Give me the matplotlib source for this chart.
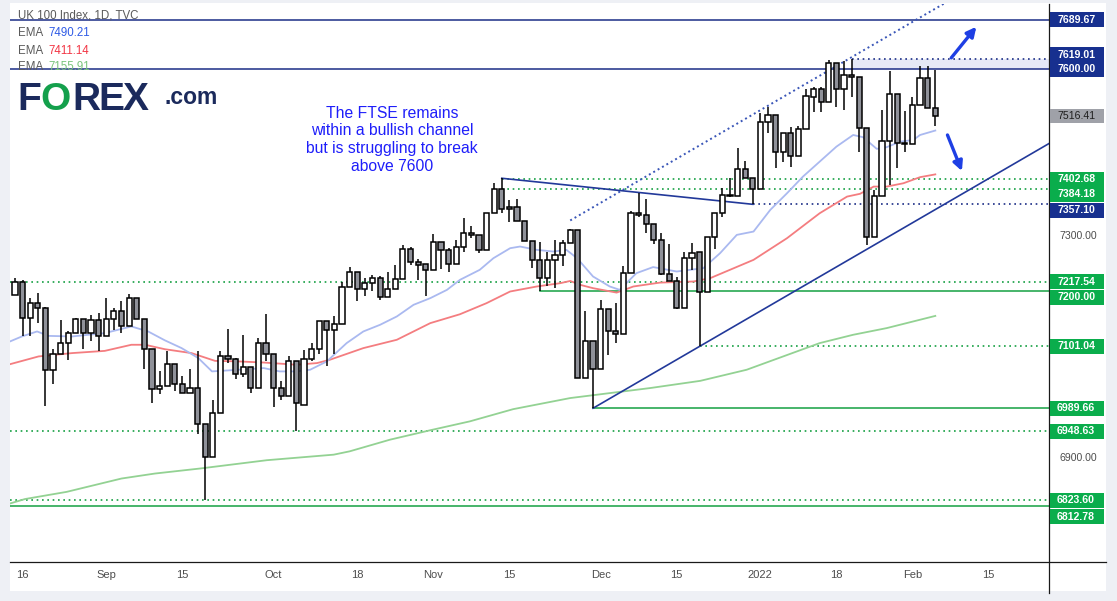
import matplotlib

matplotlib.use("Agg")
import matplotlib.pyplot as plt
from matplotlib.lines import Line2D
from matplotlib.patches import Rectangle

# ── Data ──────────────────────────────────────────────────────────────────
# daily candles, UK 100 Index, bar 0 ~ 13 Aug 2021 ... bar 121 = 4 Feb 2022
opens = [7194, 7218, 7153, 7180, 7170, 7059, 7087, 7108, 7125, 7150,
         7125, 7149, 7120, 7150, 7165, 7138, 7188, 7150, 7096, 7024,
         7029, 7069, 7033, 7017, 7027, 6962, 6902, 6981, 7084, 7078,
         7051, 7064, 7027, 7108, 7087, 7027, 7011, 7075, 6995, 7078,
         7096, 7146, 7131, 7141, 7208, 7235, 7204, 7216, 7224, 7190,
         7204, 7222, 7277, 7253, 7249, 7239, 7289, 7275, 7249, 7280,
         7305, 7301, 7274, 7341, 7384, 7352, 7352, 7327, 7291, 7257,
         7224, 7257, 7266, 7287, 7311, 7044, 7111, 7060, 7168, 7128,
         7123, 7233, 7341, 7338, 7322, 7293, 7231, 7219, 7170, 7260,
         7271, 7199, 7298, 7341, 7373, 7372, 7420, 7404, 7384, 7505,
         7518, 7451, 7485, 7445, 7493, 7551, 7564, 7542, 7611, 7564,
         7590, 7586, 7494, 7298, 7372, 7471, 7555, 7467, 7466, 7536,
         7584, 7530]
highs = [7224, 7220, 7188, 7198, 7172, 7096, 7149, 7129, 7153, 7150,
         7158, 7162, 7188, 7170, 7183, 7196, 7188, 7150, 7096, 7056,
         7092, 7069, 7048, 7060, 7093, 6962, 7005, 7092, 7132, 7080,
         7122, 7064, 7117, 7159, 7087, 7039, 7083, 7075, 7095, 7108,
         7146, 7146, 7155, 7217, 7244, 7235, 7224, 7229, 7228, 7236,
         7248, 7283, 7280, 7259, 7249, 7304, 7289, 7278, 7293, 7332,
         7318, 7301, 7342, 7396, 7404, 7364, 7366, 7327, 7291, 7290,
         7272, 7293, 7293, 7312, 7311, 7164, 7111, 7185, 7168, 7180,
         7246, 7345, 7378, 7366, 7322, 7305, 7286, 7227, 7272, 7288,
         7271, 7298, 7341, 7386, 7404, 7458, 7435, 7404, 7521, 7532,
         7518, 7485, 7496, 7498, 7564, 7569, 7569, 7617, 7612, 7615,
         7619, 7586, 7494, 7383, 7527, 7597, 7555, 7525, 7551, 7606,
         7606, 7599]
lows = [7194, 7119, 7119, 7144, 6994, 7033, 7087, 7077, 7125, 7097,
        7110, 7093, 7120, 7131, 7125, 7138, 7150, 7061, 6999, 7015,
        7029, 7021, 7017, 7017, 6943, 6824, 6902, 6981, 7072, 7042,
        7046, 7017, 7027, 7074, 6991, 7004, 7011, 6949, 6995, 7074,
        7087, 7065, 7087, 7141, 7208, 7182, 7191, 7200, 7184, 7190,
        7204, 7222, 7248, 7221, 7192, 7239, 7241, 7236, 7249, 7272,
        7296, 7270, 7274, 7341, 7341, 7326, 7327, 7291, 7243, 7201,
        7209, 7206, 7246, 7287, 7044, 7044, 6990, 7060, 7086, 7107,
        7123, 7233, 7335, 7305, 7286, 7230, 7219, 7168, 7170, 7239,
        7101, 7199, 7276, 7334, 7371, 7372, 7404, 7357, 7384, 7486,
        7422, 7434, 7425, 7445, 7493, 7524, 7524, 7542, 7533, 7527,
        7551, 7452, 7284, 7298, 7372, 7392, 7422, 7452, 7466, 7536,
        7530, 7499]
closes = [7218, 7153, 7180, 7170, 7059, 7087, 7108, 7125, 7150, 7125,
          7149, 7120, 7150, 7165, 7138, 7188, 7150, 7096, 7024, 7030,
          7069, 7033, 7017, 7027, 6962, 6902, 6981, 7084, 7078, 7051,
          7064, 7027, 7108, 7087, 7027, 7011, 7075, 6999, 7078, 7096,
          7146, 7131, 7141, 7208, 7235, 7204, 7216, 7224, 7190, 7204,
          7222, 7277, 7253, 7248, 7239, 7289, 7275, 7249, 7280, 7305,
          7301, 7274, 7341, 7384, 7348, 7348, 7327, 7291, 7257, 7224,
          7257, 7266, 7287, 7311, 7044, 7111, 7060, 7168, 7128, 7123,
          7233, 7341, 7338, 7322, 7293, 7231, 7219, 7170, 7260, 7270,
          7199, 7298, 7341, 7373, 7372, 7420, 7404, 7384, 7505, 7518,
          7451, 7485, 7445, 7493, 7552, 7564, 7542, 7611, 7564, 7590,
          7586, 7494, 7298, 7372, 7471, 7555, 7467, 7465, 7536, 7584,
          7530, 7516.41]

# EMA lines (bar position, value)
ema20_x = [-0.66, 0.9, 2.9, 4.4, 7.5, 11.8, 15.3, 17.5, 19.7, 21.9, 24.1,
           25.9, 29.4, 32.7, 34.8, 37.0, 38.8, 41.0, 43.6, 45.8, 48.0, 50.2,
           52.4, 54.6, 56.8, 58.5, 61.1, 62.9, 65.1, 66.4, 68.6, 70.8, 72.5,
           73.9, 76.0, 78.2, 79.5, 81.7, 83.9, 87.0, 90.5, 92.7, 94.9, 97.1,
           99.3, 101.5, 103.6, 105.8, 108.0, 110.2, 111.5, 113.3, 114.6,
           116.4, 118.1, 119.0, 121.0]
ema20_y = [7110, 7119, 7128, 7120, 7119, 7125, 7137, 7128, 7112, 7098, 7080,
           7056, 7059, 7062, 7056, 7056, 7059, 7074, 7107, 7128, 7140, 7155,
           7176, 7188, 7203, 7221, 7239, 7260, 7278, 7281, 7275, 7272, 7275,
           7260, 7227, 7209, 7203, 7233, 7244, 7236, 7242, 7269, 7302, 7308,
           7347, 7377, 7407, 7434, 7461, 7482, 7478, 7457, 7460,
           7470, 7473, 7482, 7490]
ema50_x = [-0.66, 3.1, 7.5, 11.8, 15.3, 17.1, 19.7, 23.2, 26.3, 29.4, 32.7,
           37.0, 39.7, 41.4, 45.8, 50.2, 54.6, 58.5, 62.0, 65.1, 68.6, 71.7,
           73.0, 74.3, 76.0, 79.1, 81.3, 84.8, 89.2, 91.4, 97.1, 101.5,
           105.8, 109.4, 111.1, 112.9, 114.6, 116.8, 119.0, 121.0]
ema50_y = [7069, 7083, 7089, 7093, 7104, 7104, 7096, 7089, 7075, 7074, 7072,
           7068, 7071, 7077, 7098, 7113, 7143, 7159, 7179, 7200, 7209, 7215,
           7219, 7212, 7206, 7198, 7209, 7216, 7218, 7224, 7257, 7296,
           7341, 7371, 7376, 7389, 7389, 7395, 7406, 7411]
ema200_x = [-0.66, 1.3, 6.8, 14.0, 18.4, 24.3, 33.1, 41.9, 44.0, 49.3, 54.6,
            59.8, 65.5, 73.0, 83.5, 90.1, 96.2, 105.8, 110.2, 114.6, 121.0]
ema200_y = [6818, 6826, 6839, 6863, 6872, 6881, 6896, 6906, 6912, 6933, 6950,
            6966, 6988, 7008, 7026, 7039, 7059, 7107, 7122, 7134, 7156]
ema_last = [7490.21, 7411.14, 7155.91]

tick_bars = [1, 12, 22, 34, 45, 55, 65, 77, 87, 98, 108, 118, 128]
tick_labels = ["16", "Sep", "15", "Oct", "18", "Nov", "15", "Dec", "15",
               "2022", "18", "Feb", "15"]

# horizontal levels and the bar each one starts from (None = whole chart)
level_prices = [7689.67, 7619.01, 7600.00, 7402.68, 7384.18, 7357.10,
                7217.54, 7200.00, 7101.04, 6989.66, 6948.63, 6823.60, 6812.78]
level_from = [None, 110, None, 64, 64, 97, None, 69, 90, 76, None, None, None]
last_price = 7516.41

# drawn trend lines: (bar, price) anchors
channel_low = [(76, 6989.66), (90, 7101.04)]
channel_high = [(73, 7328), (113, 7646)]
falling_line = [(64, 7404), (97, 7357.10)]

note_lines = ["The FTSE remains", "within a bullish channel",
              "but is struggling to break", "above 7600"]

# ── Styling ───────────────────────────────────────────────────────────────
plt.rcParams["font.family"] = ["Liberation Sans", "DejaVu Sans"]

W, H = 1117, 601
NAVY = "#1b2d86"
NAVY_BOX = "#17308f"
GREEN = "#15a043"
GREEN_BOX = "#0aad4c"
DOWN_FILL = "#8f9199"
ARROW = "#1e3fe4"
AXIS_TXT = "#4d4d4d"

Y_TOP, Y_BOT = 7718.0, 6712.6
X_LEFT, X_RIGHT = -0.66, 135.95
AX_TOP, AX_BOT = 4, 562


def fx(px):
    return px / W


def fy(py):
    return 1 - py / H


def py_of(price):
    return AX_TOP + (Y_TOP - price) / (Y_TOP - Y_BOT) * (AX_BOT - AX_TOP)


fig = plt.figure(figsize=(W / 100, H / 100), dpi=100)
fig.patch.set_facecolor("#eef0f5")
fig.add_artist(Rectangle((fx(10), fy(591)), 1096 / W, 588 / H,
                         transform=fig.transFigure, facecolor="white",
                         edgecolor="none", zorder=-5))

ax = fig.add_axes([fx(10), fy(AX_BOT), (1049 - 10) / W, (AX_BOT - AX_TOP) / H])
ax.set_xlim(X_LEFT, X_RIGHT)
ax.set_ylim(Y_BOT, Y_TOP)
ax.set_facecolor("white")
for s in ax.spines.values():
    s.set_visible(False)
ax.set_yticks([])
ax.set_xticks(tick_bars)
ax.set_xticklabels(tick_labels)
ax.tick_params(axis="x", length=0, pad=6, labelsize=8, labelcolor=AXIS_TXT)

# resistance zone
ax.add_patch(Rectangle((110, 7600.0), X_RIGHT - 110, 7619.01 - 7600.0,
                       facecolor="#e6e9f6", edgecolor="none", zorder=0.5))

# horizontal levels
level_style = {
    7689.67: (NAVY, "-"), 7619.01: (NAVY, ":"), 7600.00: (NAVY, "-"),
    7402.68: (GREEN, ":"), 7384.18: (GREEN, ":"), 7357.10: (NAVY, ":"),
    7217.54: (GREEN, ":"), 7200.00: (GREEN, "-"), 7101.04: (GREEN, ":"),
    6989.66: (GREEN, "-"), 6948.63: (GREEN, ":"), 6823.60: (GREEN, ":"),
    6812.78: (GREEN, "-"),
}
for price, start in zip(level_prices, level_from):
    color, ls = level_style[price]
    x0 = X_LEFT if start is None else start
    ax.plot([x0, X_RIGHT], [price, price], color=color,
            linestyle=(0, (1, 2.2)) if ls == ":" else "-",
            lw=1.2 if ls == ":" else 1.1, zorder=1)

# EMAs
ax.plot(ema200_x, ema200_y, color="#93d293", lw=1.3, zorder=1.5)
ax.plot(ema50_x, ema50_y, color="#f47d80", lw=1.3, zorder=1.5)
ax.plot(ema20_x, ema20_y, color="#aab9f0", lw=1.3, zorder=1.5)


# trend lines
def extend(pts, x_end):
    (x0, y0), (x1, y1) = pts
    slope = (y1 - y0) / (x1 - x0)
    return [x0, x_end], [y0, y0 + slope * (x_end - x0)]


xs, ys = extend(channel_low, X_RIGHT)
ax.plot(xs, ys, color="#22399a", lw=1.2, zorder=2)
xs, ys = extend(channel_high, X_RIGHT)
ax.plot(xs, ys, color="#3a56b8", lw=1.4, linestyle=(0, (1, 1.6)), zorder=2)
ax.plot(*zip(*falling_line), color="#22399a", lw=1.2, zorder=2)

# candles
for i, (o, h, l, c) in enumerate(zip(opens, highs, lows, closes)):
    up = c >= o
    ax.vlines(i, l, h, color="black", lw=1.1, zorder=3)
    ax.add_patch(Rectangle((i - 0.34, min(o, c)), 0.68, max(abs(c - o), 0.8),
                           facecolor="white" if up else DOWN_FILL,
                           edgecolor="black", lw=1.1, zorder=4))

# arrows
ax.annotate("", xy=(126.4, 7677), xytext=(123.1, 7621),
            arrowprops=dict(arrowstyle="-|>", color=ARROW, lw=2.4,
                            mutation_scale=14, shrinkA=0, shrinkB=0), zorder=5)
ax.annotate("", xy=(124.5, 7417), xytext=(122.6, 7482),
            arrowprops=dict(arrowstyle="-|>", color=ARROW, lw=2.4,
                            mutation_scale=14, shrinkA=0, shrinkB=0), zorder=5)

# frame lines
fig.add_artist(Line2D([fx(10), fx(1106)], [fy(562), fy(562)],
                      color="#1a1a1a", lw=0.9))
fig.add_artist(Line2D([fx(1049), fx(1049)], [fy(4), fy(593)],
                      color="#1a1a1a", lw=0.9))

# price-scale boxes
label_y = {7619.01: 54.5, 7384.18: 194.5, 7357.10: 210.0,
           7200.00: 297.5, 6812.78: 516.5}
box_centres = [py_of(last_price)]
for price in level_prices:
    color = NAVY_BOX if level_style[price][0] == NAVY else GREEN_BOX
    y = label_y.get(price, py_of(price))
    box_centres.append(y)
    fig.add_artist(Rectangle((fx(1050), fy(y + 7.5)), 54 / W, 15 / H,
                             transform=fig.transFigure, facecolor=color,
                             edgecolor="none", zorder=7))
    fig.text(fx(1057), fy(y), f"{price:.2f}", fontsize=7.6, color="white",
             fontweight="bold", va="center", ha="left", zorder=8)

y = py_of(last_price)
fig.add_artist(Rectangle((fx(1050), fy(y + 7)), 54 / W, 14 / H,
                         transform=fig.transFigure, facecolor="#9fa1a8",
                         edgecolor="none", zorder=7))
fig.text(fx(1057), fy(y), f"{last_price:.2f}", fontsize=7.6, color="#1e1e1e",
         va="center", ha="left", zorder=8)

# plain price ticks (those covered by a box are hidden, as on the chart)
for p in range(6800, 7800, 100):
    y = py_of(p)
    if not (AX_TOP < y < AX_BOT):
        continue
    if any(abs(y - b) < 13 for b in box_centres):
        continue
    fig.text(fx(1059), fy(y), f"{p:.2f}", fontsize=7.6, color=AXIS_TXT,
             va="center", ha="left", zorder=6)

# header
fig.text(fx(18), fy(16), "UK 100 Index, 1D, TVC", fontsize=8.3,
         color="#5a5a5a", va="center", zorder=6)
for row, (val, col) in enumerate(zip(ema_last, ["#2f5be6", "#f23645", "#79c47c"])):
    yy = 33.5 + row * 17
    fig.text(fx(18), fy(yy), "EMA", fontsize=8.3, color="#5a5a5a",
             va="center", zorder=6)
    fig.text(fx(48), fy(yy), f"{val:.2f}", fontsize=8.3, color=col,
             va="center", zorder=6)

# logo
logo_navy = "#1b2a5c"
for letter, xc, col in [("F", 29, logo_navy), ("O", 56, "#14a04c"),
                        ("R", 86, logo_navy), ("E", 111.5, logo_navy),
                        ("X", 135.5, logo_navy)]:
    fig.text(fx(xc), fy(110), letter, fontsize=28, fontweight="bold",
             color=col, ha="center", va="baseline", zorder=6)
fig.text(fx(165), fy(104), ".com", fontsize=16.5, fontweight="bold",
         color=logo_navy, ha="left", va="baseline", zorder=6)

# note
for k, line in enumerate(note_lines):
    fig.text(fx(392), fy(113 + k * 17.8), line, fontsize=11.3,
             color="#1e1efa", ha="center", va="center", zorder=6)

fig.savefig("out.png", dpi=100, facecolor=fig.get_facecolor())
